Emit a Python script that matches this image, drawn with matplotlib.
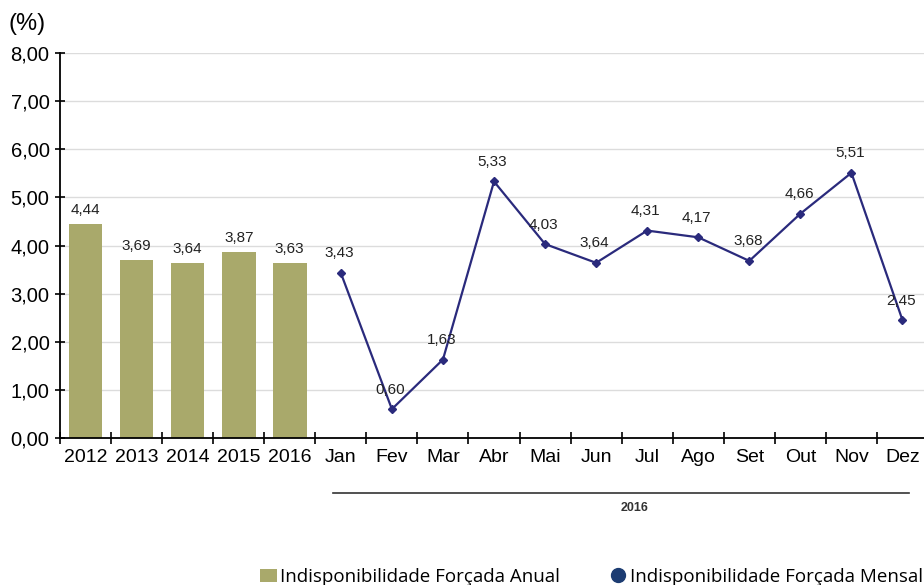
import numpy as np
import matplotlib
matplotlib.use("Agg")
import matplotlib.pyplot as plt
from matplotlib.lines import Line2D
from matplotlib.patches import Patch

# data
anos = ["2012", "2013", "2014", "2015", "2016"]
anual = [4.44, 3.69, 3.64, 3.87, 3.63]
meses = ["Jan", "Fev", "Mar", "Abr", "Mai", "Jun", "Jul", "Ago", "Set", "Out", "Nov", "Dez"]
mensal = [3.43, 0.60, 1.63, 5.33, 4.03, 3.64, 4.31, 4.17, 3.68, 4.66, 5.51, 2.45]
yticks = [0, 1, 2, 3, 4, 5, 6, 7, 8]

bar_color = "#a9a96b"
line_color = "#2a2a7c"
legend_dot = "#1c3c72"


def fmt(v):
    return f"{v:.2f}".replace(".", ",")


plt.rcParams["font.family"] = ["Liberation Sans", "DejaVu Sans"]

fig = plt.figure(figsize=(9.24, 5.85), dpi=100)
ax = fig.add_axes([60 / 924, 147 / 585, 868 / 924, 385 / 585])

labels = anos + meses
x_bar = np.arange(len(anos))
x_line = np.arange(len(anos), len(labels))

ax.bar(x_bar, anual, width=0.66, color=bar_color, zorder=2)
for xi, v in zip(x_bar, anual):
    ax.annotate(fmt(v), (xi, v), xytext=(0, 5), textcoords="offset points",
                ha="center", va="bottom", fontsize=11, color="#222222")

ax.plot(x_line, mensal, color=line_color, lw=1.6, marker="D", ms=4, zorder=3)
for xi, v in zip(x_line, mensal):
    ax.annotate(fmt(v), (xi, v), xytext=(-1, 9), textcoords="offset points",
                ha="center", va="bottom", fontsize=11, color="#222222")

ax.set_xlim(-0.5, len(labels) - 0.5)
ax.set_ylim(0, 8)
ax.set_yticks(yticks)
ax.set_yticklabels([fmt(t) for t in yticks], fontsize=14.5)
ax.set_xticks(np.arange(len(labels)))
ax.set_xticklabels(labels, fontsize=14)
ax.set_xticks(np.arange(len(labels) + 1) - 0.5, minor=True)
ax.tick_params(axis="x", which="major", length=0, pad=8)
ax.tick_params(axis="x", which="minor", direction="inout", length=9, width=1.2)
ax.tick_params(axis="y", direction="inout", length=7, width=1.2, pad=4)
for lab in ax.get_xticklabels()[len(anos):]:
    lab.set_fontstretch("condensed")

ax.grid(axis="y", color="#dcdcdc", lw=1, zorder=0)
ax.set_axisbelow(True)
for s in ["top", "right"]:
    ax.spines[s].set_visible(False)
ax.spines["left"].set_linewidth(1.3)
ax.spines["bottom"].set_linewidth(1.3)

# group line under months
trans = ax.get_xaxis_transform()
ax.plot([4.84, 16.13], [-0.143, -0.143], color="#333333", lw=1.2,
        transform=trans, clip_on=False)
ax.text(10.75, -0.182, "2016", transform=trans, ha="center", va="center",
        fontsize=9, color="#333333", fontweight="bold")

fig.text(8 / 924, 1 - 24 / 585, "(%)", fontsize=17, va="center", ha="left")

handles = [
    Patch(facecolor=bar_color, edgecolor="none", label="Indisponibilidade Forçada Anual"),
    Line2D([], [], marker="o", ls="none", color=legend_dot, ms=10,
           label="Indisponibilidade Forçada Mensal"),
]
fig.legend(handles=handles, loc="center left", bbox_to_anchor=(243 / 924, 1 - 577 / 585),
           ncol=2, frameon=False, handlelength=0.9, handletextpad=0.2,
           columnspacing=2.6, prop={"family": "Open Sans", "size": 13.5})

fig.savefig("out.png", dpi=100)
